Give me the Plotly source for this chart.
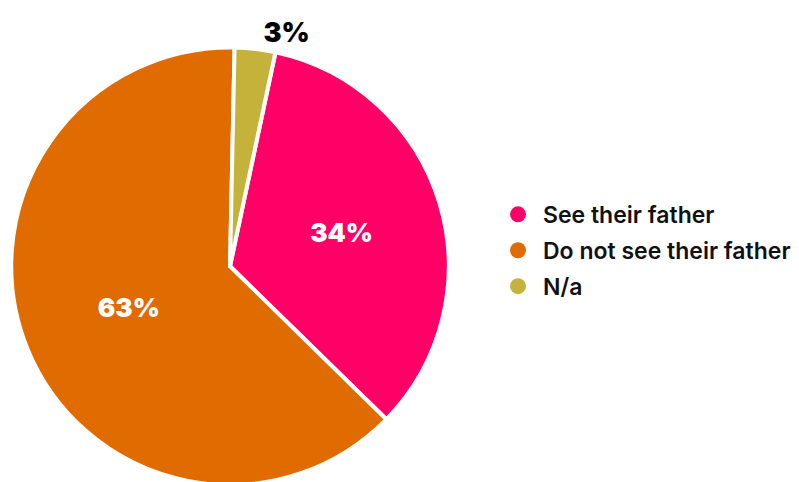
import plotly.graph_objects as go

labels = ["See their father", "Do not see their father", "N/a"]
values = [34, 63, 3]
colors = ["#FF0066", "#E06B00", "#C4B23A"]
text_positions = ["inside", "inside", "outside"]

W, H = 799, 490

fig = go.Figure()
fig.add_trace(go.Pie(
    labels=labels, values=values, sort=False, direction="clockwise", rotation=12,
    marker=dict(colors=colors, line=dict(color="white", width=4)),
    textinfo="percent", textposition=text_positions,
    insidetextorientation="horizontal",
    insidetextfont=dict(family="Inter", size=26, color="white", weight=900),
    outsidetextfont=dict(family="Inter", size=27, color="black", weight=900),
    showlegend=False, hoverinfo="label+percent",
    domain=dict(x=[9 / W, 451 / W], y=[0, 442 / H]),
))
for i, (lab, col) in enumerate(zip(labels, colors)):
    fig.add_trace(go.Scatter(
        x=[None], y=[None], mode="markers", name=lab, legendgroup=f"g{i}",
        marker=dict(color=col, size=18, symbol="circle"),
    ))

fig.update_layout(
    width=W, height=H, margin=dict(l=0, r=0, t=0, b=0),
    paper_bgcolor="white", plot_bgcolor="white",
    xaxis=dict(visible=False), yaxis=dict(visible=False),
    legend=dict(x=493 / W, xanchor="left", y=1 - 253 / H, yanchor="middle",
                itemwidth=40, tracegroupgap=3,
                font=dict(family="Inter", size=23, color="#111111", weight=600)),
)

fig.write_html("out.html", post_script="document.documentElement.style.overflow='hidden';document.body.style.overflow='hidden';")
